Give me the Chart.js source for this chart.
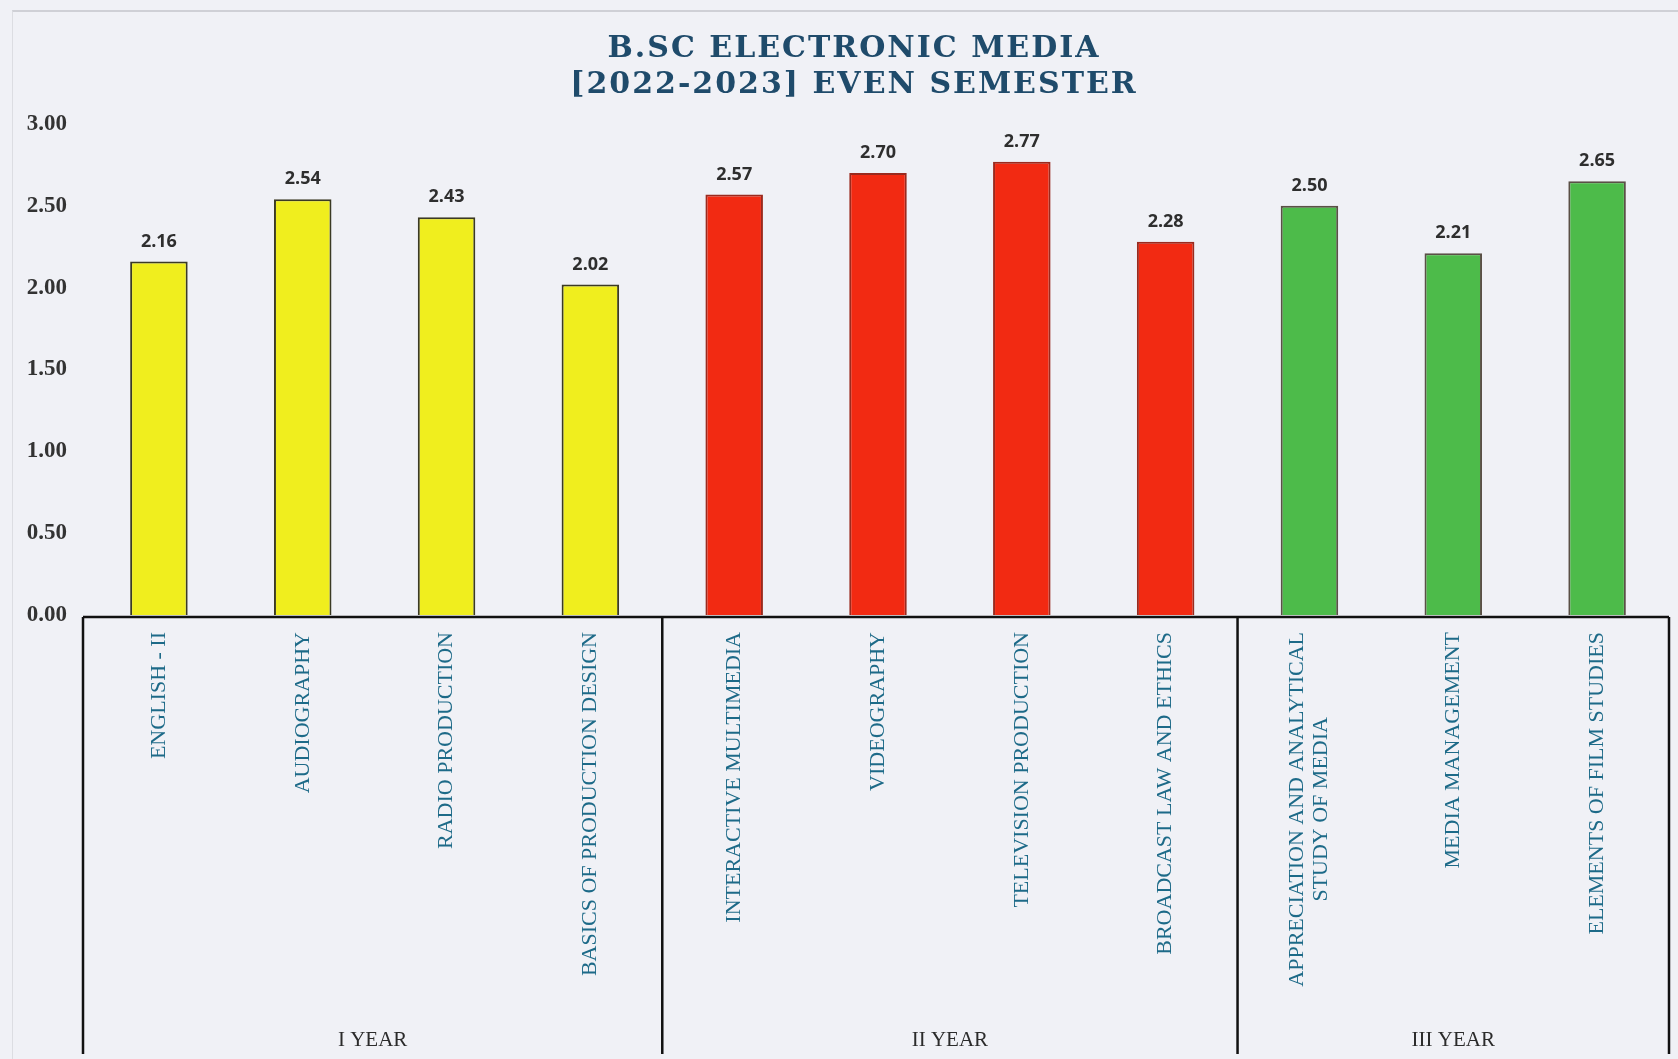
<!DOCTYPE html>
<html>
<head>
<meta charset="utf-8">
<script src="https://cdn.jsdelivr.net/npm/chart.js@4.4.1/dist/chart.umd.min.js"></script>
<style>
  html, body { margin: 0; padding: 0; background: #f0f1f6; }
  #wrap { position: relative; width: 1678px; height: 1059px; }
  #frame { position: absolute; left: 12px; top: 10px; right: 0; bottom: 0; border-top: 2px solid #cfd0d6; border-left: 1px solid #dcdde2; pointer-events: none; }
  canvas { position: absolute; left: 0; top: 0; }
</style>
</head>
<body>
<div id="wrap">
  <canvas id="c" width="1678" height="1059"></canvas>
  <div id="frame"></div>
</div>
<script>
// ---- data ----
const categories = [
  ['ENGLISH - II'],
  ['AUDIOGRAPHY'],
  ['RADIO PRODUCTION'],
  ['BASICS OF PRODUCTION DESIGN'],
  ['INTERACTIVE MULTIMEDIA'],
  ['VIDEOGRAPHY'],
  ['TELEVISION PRODUCTION'],
  ['BROADCAST LAW AND ETHICS'],
  ['APPRECIATION AND ANALYTICAL', 'STUDY OF MEDIA'],
  ['MEDIA MANAGEMENT'],
  ['ELEMENTS OF FILM STUDIES']
];
const values = [2.16, 2.54, 2.43, 2.02, 2.57, 2.70, 2.77, 2.28, 2.50, 2.21, 2.65];
const groupNames = ['I YEAR', 'II YEAR', 'III YEAR'];
const groupSizes = [4, 4, 3];
const groupFill = ['#f0ee1e', '#f22a12', '#4dbb4a'];
const groupBorder = ['#3b3a24', '#9a2a1e', '#5a5046'];
const yTicks = [0, 0.5, 1, 1.5, 2, 2.5, 3];
const titleLines = ['B.SC ELECTRONIC MEDIA', '[2022-2023] EVEN SEMESTER'];

// per-bar colours from group membership
const barFill = [], barBorder = [];
groupSizes.forEach((n, g) => { for (let i = 0; i < n; i++) { barFill.push(groupFill[g]); barBorder.push(groupBorder[g]); } });

const bgPlugin = {
  id: 'bg',
  beforeDraw(chart) {
    const ctx = chart.ctx;
    ctx.save();
    ctx.fillStyle = '#f0f1f6';
    ctx.fillRect(0, 0, chart.width, chart.height);
    ctx.restore();
  }
};

const titlePlugin = {
  id: 'spacedTitle',
  afterDraw(chart) {
    const ctx = chart.ctx;
    ctx.save();
    ctx.font = 'bold 30px "DejaVu Serif", serif';
    ctx.fillStyle = '#1f4b6b';
    ctx.textAlign = 'center';
    ctx.textBaseline = 'middle';
    if ('letterSpacing' in ctx) ctx.letterSpacing = '2px';
    const cx = 853;
    titleLines.forEach((t, i) => ctx.fillText(t, cx + 1, 49 + i * 36));
    ctx.restore();
  }
};

const valueLabels = {
  id: 'valueLabels',
  afterDatasetsDraw(chart) {
    const ctx = chart.ctx;
    const meta = chart.getDatasetMeta(0);
    ctx.save();
    ctx.font = 'bold 18px "Open Sans", "Liberation Sans", sans-serif';
    ctx.fillStyle = '#2e2e2e';
    ctx.textAlign = 'center';
    ctx.textBaseline = 'bottom';
    meta.data.forEach((bar, i) => {
      ctx.fillText(values[i].toFixed(2), bar.x, bar.y - 11);
    });
    ctx.restore();
  }
};

const groupAxis = {
  id: 'groupAxis',
  afterDraw(chart) {
    const ctx = chart.ctx;
    const xs = chart.scales.x;
    const area = chart.chartArea;
    const step = xs.getPixelForValue(1) - xs.getPixelForValue(0);
    const yTop = area.bottom + 2;
    const yBot = 1054;
    ctx.save();
    // category labels, rotated, lines centred
    ctx.font = '22px "Liberation Serif", "Times New Roman", serif';
    ctx.fillStyle = '#1d6a88';
    categories.forEach((lines, i) => {
      const x = xs.getPixelForValue(i);
      const lh = 24;
      const n = lines.length;
      let maxW = 0;
      lines.forEach(l => { maxW = Math.max(maxW, ctx.measureText(l).width); });
      ctx.save();
      ctx.translate(x, yTop + 15);
      ctx.rotate(-Math.PI / 2);
      ctx.textAlign = 'center';
      ctx.textBaseline = 'middle';
      lines.forEach((l, k) => {
        const dy = (k - (n - 1) / 2) * lh;
        ctx.fillText(l, -maxW / 2, dy);
      });
      ctx.restore();
    });
    // box lines
    ctx.strokeStyle = '#111';
    ctx.lineWidth = 2.5;
    const left = xs.left - 4;
    const right = xs.right;
    ctx.beginPath();
    ctx.moveTo(left, yTop);
    ctx.lineTo(right, yTop);
    ctx.moveTo(left, yTop);
    ctx.lineTo(left, yBot);
    let idx = 0;
    const bounds = [left];
    groupSizes.forEach((n, g) => {
      idx += n;
      const bx = g === groupSizes.length - 1 ? right : xs.getPixelForValue(idx) - step / 2;
      bounds.push(bx);
      ctx.moveTo(bx, yTop);
      ctx.lineTo(bx, yBot);
    });
    ctx.stroke();
    // group names
    ctx.font = '21px "Liberation Serif", "Times New Roman", serif';
    ctx.fillStyle = '#2b2b2b';
    ctx.textAlign = 'center';
    ctx.textBaseline = 'middle';
    groupNames.forEach((name, g) => {
      ctx.fillText(name, (bounds[g] + bounds[g + 1]) / 2, 1040);
    });
    ctx.restore();
  }
};

new Chart(document.getElementById('c'), {
  type: 'bar',
  data: {
    labels: categories.map(c => c.join(' ')),
    datasets: [{
      data: values,
      backgroundColor: barFill,
      borderColor: barBorder,
      borderWidth: 2,
      barPercentage: 0.4,
      categoryPercentage: 1.0
    }]
  },
  options: {
    responsive: false,
    animation: false,
    layout: { padding: { left: 0, right: 9, top: 124, bottom: 0 } },
    plugins: {
      legend: { display: false },
      tooltip: { enabled: false },
      title: { display: false }
    },
    scales: {
      x: {
        grid: { display: false, drawTicks: false },
        border: { display: false },
        ticks: { display: false },
        afterFit(s) { s.height = 1059 - 615; }
      },
      y: {
        min: 0,
        max: 3,
        grid: { display: false, drawTicks: false },
        border: { display: false },
        afterBuildTicks(s) { s.ticks = yTicks.map(v => ({ value: v })); },
        ticks: {
          padding: 20,
          color: '#333',
          font: { family: '"Liberation Serif", "Times New Roman", serif', size: 23, weight: 'bold' },
          callback: v => Number(v).toFixed(2)
        },
        afterFit(s) { s.width = 87; }
      }
    }
  },
  plugins: [bgPlugin, valueLabels, groupAxis, titlePlugin]
});
</script>
</body>
</html>
